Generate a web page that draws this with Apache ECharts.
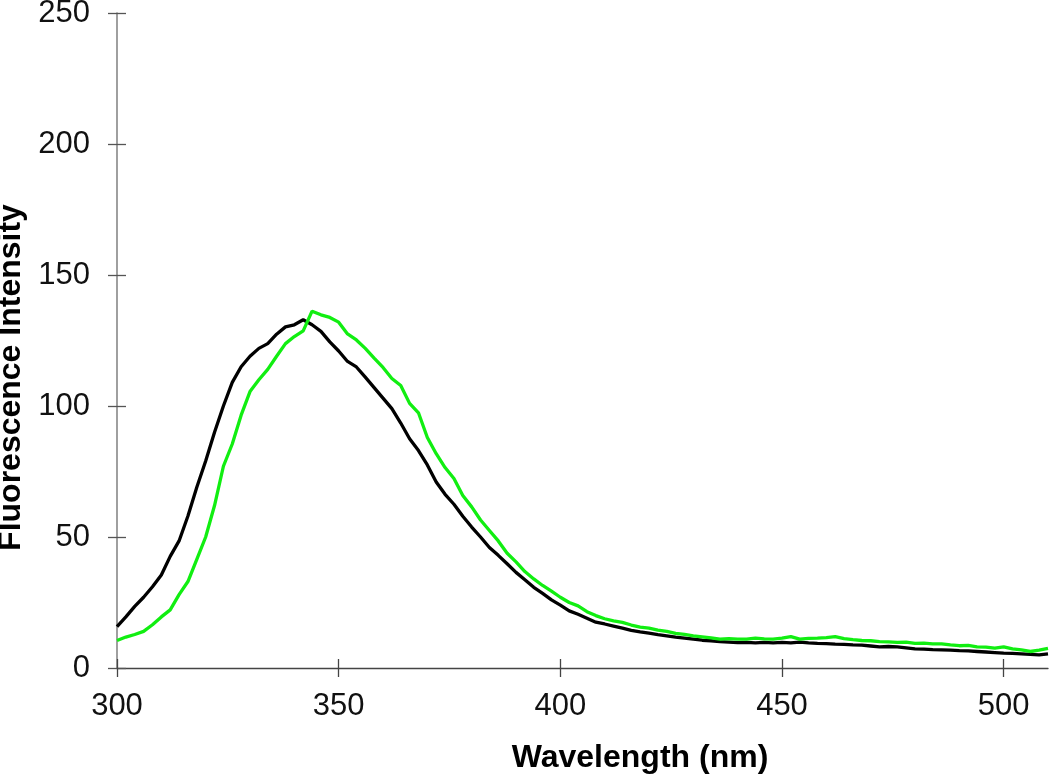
<!DOCTYPE html>
<html>
<head>
<meta charset="utf-8">
<script src="https://cdn.jsdelivr.net/npm/echarts@6/dist/echarts.min.js"></script>
<style>
html,body{margin:0;padding:0;background:#fff;}
#chart{width:1050px;height:777px;}
</style>
</head>
<body>
<div id="chart"></div>
<script>
const wavelengths = [
300,302,304,306,308,310,312,314,316,318,
320,322,324,326,328,330,332,334,336,338,
340,342,344,346,348,350,352,354,356,358,
360,362,364,366,368,370,372,374,376,378,
380,382,384,386,388,390,392,394,396,398,
400,402,404,406,408,410,412,414,416,418,
420,422,424,426,428,430,432,434,436,438,
440,442,444,446,448,450,452,454,456,458,
460,462,464,466,468,470,472,474,476,478,
480,482,484,486,488,490,492,494,496,498,
500,502,504,506,508,510];

const blackSeries = [
15.8,19.5,23.5,27,31,35.5,42.6,48.5,58,69,
79,90,100,109,115,119,122,123.8,127.4,130.2,
131,132.9,131,128.5,124.5,121,117,114.9,111,107,
103,99,93.5,87.5,83,77.5,71,66.3,62.5,57.9,
53.8,50,46,43,39.8,36.5,33.7,30.8,28.5,26,
24,21.8,20.5,19,17.5,16.8,16,15.2,14.4,13.8,
13.3,12.7,12.3,11.8,11.4,11,10.6,10.4,10.1,9.9,
9.7,9.8,9.6,9.8,9.6,9.8,9.6,9.9,9.6,9.4,
9.3,9.1,9.0,8.8,8.7,8.4,8.1,8.2,8.1,7.7,
7.3,7.2,7.0,6.9,6.8,6.6,6.5,6.3,6.1,5.9,
5.7,5.6,5.4,5.2,5.0,5.4];

const greenSeries = [
10.5,11.8,12.8,14,16.5,19.5,22.2,28,33,41.5,
50,62,77,85.5,96.5,105.5,110,114,119,123.8,
126.5,128.7,136.2,134.8,133.8,132,127.5,125.2,122,118.3,
114.7,110.5,107.8,101,97.4,88,81.8,76.5,72.3,65.8,
61.5,56.5,52.5,48.5,43.8,40.5,36.8,34,31.5,29.3,
27,25,23.7,21.5,20,18.8,18,17.4,16.4,15.6,
15.2,14.5,14,13.2,12.8,12.3,11.9,11.5,11,11.2,
11,11,11.4,11.1,11,11.4,12,11,11.3,11.4,
11.6,12,11.2,10.8,10.5,10.4,10.1,10,9.8,9.9,
9.4,9.5,9.2,9.2,8.8,8.5,8.6,8.1,8.0,7.6,
8.1,7.3,6.9,6.3,6.8,7.5];

const xTicks = [300,350,400,450,500];

const FONT = '"Liberation Sans", Arial, sans-serif';
const chart = echarts.init(document.getElementById('chart'), null, {renderer:'canvas'});

function pairs(xs, ys){ return xs.map((x,i)=>[x, ys[i]]); }

const xBase = {
  type:'value', min:300, max:510, gridIndex:0, position:'bottom',
  splitLine:{show:false}
};
const yBase = {
  type:'value', min:0, max:250, interval:50, gridIndex:0, position:'left',
  splitLine:{show:false}
};

chart.setOption({
  animation:false,
  backgroundColor:'#ffffff',
  grid:{left:117, right:2, top:13, bottom:109, containLabel:false, outerBoundsMode:'none'},
  xAxis:[
    Object.assign({}, xBase, {
      name:'Wavelength (nm)', nameLocation:'middle', nameGap:74,
      nameTextStyle:{fontFamily:FONT, fontSize:32, fontWeight:'bold', color:'#000', padding:[0,0,0,115]},
      axisLine:{show:true, onZero:false, lineStyle:{color:'#444', width:1.3}},
      axisTick:{show:true, inside:false, length:9, customValues:xTicks, lineStyle:{color:'#444', width:1.3}},
      axisLabel:{show:true, customValues:xTicks, margin:23, fontFamily:FONT, fontSize:31, color:'#111'}
    }),
    Object.assign({}, xBase, {
      axisLine:{show:false},
      axisTick:{show:true, inside:true, length:9, customValues:xTicks, lineStyle:{color:'#444', width:1.3}},
      axisLabel:{show:false}
    })
  ],
  yAxis:[
    Object.assign({}, yBase, {
      name:'Fluorescence Intensity', nameLocation:'middle', nameGap:90,
      nameTextStyle:{fontFamily:FONT, fontSize:32, fontWeight:'bold', color:'#000', padding:[0,74,0,0]},
      axisLine:{show:true, onZero:false, lineStyle:{color:'#888', width:1.6}},
      axisTick:{show:true, inside:false, length:9, lineStyle:{color:'#555', width:1.3}},
      axisLabel:{show:true, margin:27, fontFamily:FONT, fontSize:31, color:'#111'}
    }),
    Object.assign({}, yBase, {
      axisLine:{show:false},
      axisTick:{show:true, inside:true, length:9, lineStyle:{color:'#555', width:1.3}},
      axisLabel:{show:false}
    })
  ],
  series:[
    {type:'line', xAxisIndex:0, yAxisIndex:0, data:pairs(wavelengths, blackSeries),
     showSymbol:false, symbol:'none', lineStyle:{color:'#000000', width:3.3}, z:2},
    {type:'line', xAxisIndex:0, yAxisIndex:0, data:pairs(wavelengths, greenSeries),
     showSymbol:false, symbol:'none', lineStyle:{color:'#11ee11', width:3.3}, z:3}
  ]
});
</script>
</body>
</html>
